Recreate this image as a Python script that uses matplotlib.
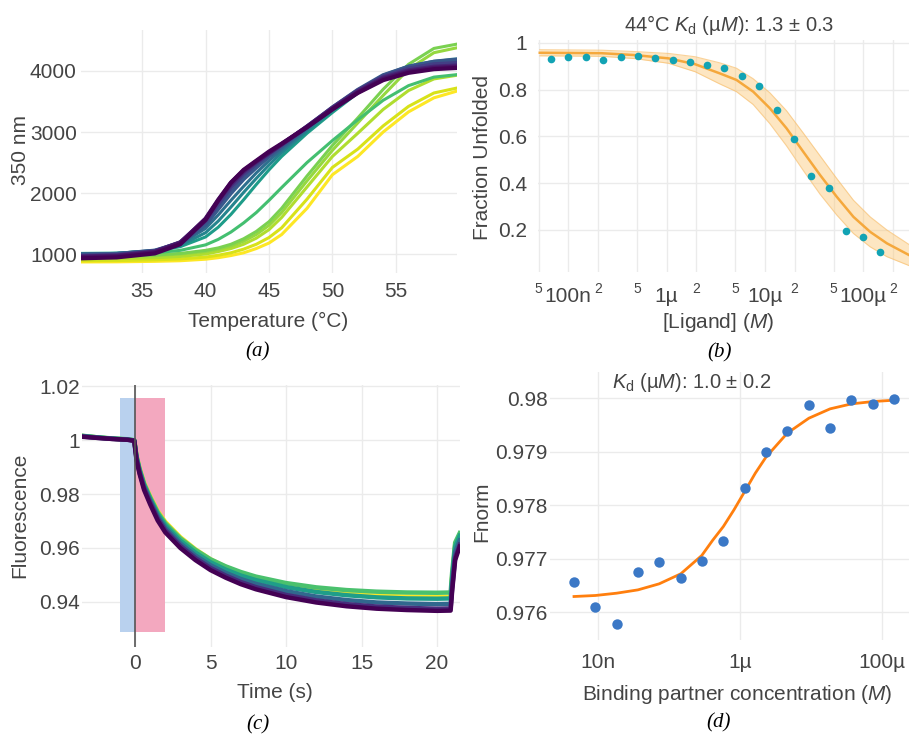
import matplotlib
matplotlib.use("Agg")
import matplotlib.pyplot as plt
import matplotlib.ticker as mticker
import numpy as np

plt.rcParams["font.family"] = ["Liberation Sans", "DejaVu Sans"]
plt.rcParams["mathtext.fontset"] = "custom"
plt.rcParams["mathtext.rm"] = "Liberation Sans"
plt.rcParams["mathtext.it"] = "Liberation Sans:italic"

# ---------------- data ----------------
# (a) melting curves, 350 nm signal vs temperature
temps_a = [30.2, 33, 36, 38, 40, 41, 42, 43, 44, 45, 46, 48, 50, 52, 54, 56, 58, 59.8]
melt_curves = [
    [870, 872, 880, 890, 915, 940, 975, 1020, 1090, 1180, 1320, 1750, 2300, 2600, 3000, 3330, 3560, 3670],
    [890, 893, 905, 920, 950, 980, 1020, 1080, 1160, 1270, 1430, 1900, 2420, 2720, 3100, 3420, 3640, 3720],
    [920, 925, 940, 960, 1000, 1040, 1090, 1160, 1260, 1400, 1600, 2100, 2600, 2980, 3370, 3680, 3870, 3930],
    [955, 960, 975, 1000, 1040, 1080, 1130, 1210, 1320, 1470, 1680, 2200, 2700, 3150, 3600, 4030, 4300, 4380],
    [960, 965, 985, 1010, 1060, 1100, 1160, 1250, 1370, 1530, 1750, 2280, 2780, 3230, 3700, 4110, 4370, 4440],
    [990, 995, 1020, 1060, 1150, 1240, 1360, 1510, 1680, 1880, 2090, 2500, 2860, 3200, 3520, 3760, 3900, 3940],
    [1010, 1015, 1050, 1120, 1280, 1440, 1650, 1890, 2140, 2380, 2600, 2980, 3320, 3640, 3900, 4050, 4140, 4170],
    [1000, 1010, 1055, 1140, 1350, 1540, 1770, 2010, 2240, 2460, 2660, 3020, 3350, 3660, 3910, 4060, 4150, 4180],
    [1000, 1010, 1060, 1160, 1420, 1640, 1880, 2110, 2330, 2530, 2710, 3050, 3380, 3680, 3930, 4080, 4160, 4200],
    [990, 1000, 1055, 1180, 1480, 1740, 2000, 2230, 2420, 2600, 2760, 3080, 3400, 3690, 3930, 4070, 4150, 4180],
    [970, 985, 1045, 1190, 1540, 1820, 2090, 2310, 2480, 2640, 2790, 3090, 3400, 3680, 3910, 4040, 4110, 4130],
    [960, 975, 1040, 1190, 1570, 1870, 2140, 2350, 2510, 2660, 2800, 3090, 3390, 3670, 3890, 4010, 4070, 4090],
    [950, 965, 1030, 1180, 1580, 1890, 2170, 2370, 2520, 2660, 2800, 3080, 3380, 3650, 3870, 3990, 4050, 4070],
    [930, 945, 1010, 1160, 1560, 1880, 2170, 2380, 2530, 2680, 2810, 3080, 3370, 3640, 3850, 3970, 4030, 4050],
]
melt_shade = [1.0, 0.94, 0.88, 0.84, 0.8, 0.7, 0.55, 0.45, 0.36, 0.27, 0.18, 0.1, 0.05, 0.0]

# (b) fraction unfolded vs ligand (log10 M)
lig_log = [-7.177, -7.0, -6.824, -6.645, -6.468, -6.292, -6.116, -5.939, -5.766, -5.590,
           -5.414, -5.237, -5.058, -4.881, -4.705, -4.529, -4.352, -4.176, -4.0, -3.827]
frac_unf = [0.929, 0.938, 0.938, 0.927, 0.940, 0.944, 0.935, 0.925, 0.916, 0.905,
            0.893, 0.858, 0.815, 0.711, 0.590, 0.430, 0.379, 0.194, 0.168, 0.104]
fit_b_log = [-7.29, -6.66, -6.32, -5.98, -5.71, -5.46, -5.29, -5.12, -4.95, -4.78,
             -4.61, -4.44, -4.27, -4.10, -3.93, -3.76, -3.535]
fit_b = [0.957, 0.955, 0.947, 0.933, 0.908, 0.869, 0.841, 0.791, 0.720, 0.634,
         0.534, 0.435, 0.342, 0.256, 0.192, 0.143, 0.093]
fit_b_hi = [0.970, 0.968, 0.962, 0.954, 0.940, 0.914, 0.891, 0.846, 0.786, 0.709,
            0.614, 0.517, 0.420, 0.327, 0.256, 0.200, 0.138]
fit_b_lo = [0.944, 0.942, 0.932, 0.912, 0.876, 0.824, 0.791, 0.736, 0.654, 0.559,
            0.454, 0.353, 0.264, 0.185, 0.128, 0.086, 0.048]

# (c) fluorescence time traces
time_c = [-3.5, -2.5, -1.5, -0.5, -0.05, 0.1, 0.3, 0.6, 1.0, 1.5, 2.0, 3.0, 4.0, 5.0, 6.0, 7.0,
          8.0, 10.0, 12.0, 14.0, 16.0, 18.0, 20.0, 20.9, 21.0, 21.2, 21.5]
trace_yellow = [1.0015, 1.0010, 1.0005, 1.0002, 0.9999, 0.9942, 0.9896, 0.9842, 0.9792, 0.9737, 0.9697,
                0.9640, 0.9595, 0.9558, 0.9530, 0.9507, 0.9488, 0.9460, 0.9442, 0.9430, 0.9423, 0.9420,
                0.9418, 0.9419, 0.9495, 0.9610, 0.9650]
trace_green = [1.0016, 1.0010, 1.0006, 1.0003, 0.9999, 0.9941, 0.9894, 0.9839, 0.9789, 0.9733, 0.9692,
               0.9636, 0.9593, 0.9558, 0.9532, 0.9511, 0.9494, 0.9470, 0.9454, 0.9444, 0.9438, 0.9435,
               0.9434, 0.9435, 0.9510, 0.9620, 0.9655]
trace_teal = [1.0015, 1.0010, 1.0005, 1.0002, 0.9999, 0.9938, 0.9890, 0.9834, 0.9783, 0.9726, 0.9684,
              0.9627, 0.9583, 0.9547, 0.9520, 0.9498, 0.9481, 0.9455, 0.9437, 0.9425, 0.9417, 0.9413,
              0.9412, 0.9413, 0.9490, 0.9605, 0.9645]
trace_blue = [1.0014, 1.0009, 1.0005, 1.0002, 0.9998, 0.9935, 0.9885, 0.9828, 0.9777, 0.9718, 0.9675,
              0.9617, 0.9572, 0.9536, 0.9508, 0.9485, 0.9467, 0.9440, 0.9420, 0.9407, 0.9398, 0.9394,
              0.9392, 0.9393, 0.9470, 0.9585, 0.9628]
trace_indigo = [1.0013, 1.0008, 1.0004, 1.0001, 0.9998, 0.9930, 0.9880, 0.9822, 0.9770, 0.9710, 0.9666,
                0.9608, 0.9563, 0.9526, 0.9498, 0.9474, 0.9455, 0.9426, 0.9406, 0.9392, 0.9383, 0.9378,
                0.9375, 0.9376, 0.9450, 0.9565, 0.9612]
trace_purple = [1.0012, 1.0008, 1.0004, 1.0001, 0.9997, 0.9925, 0.9875, 0.9815, 0.9762, 0.9702, 0.9658,
                0.9600, 0.9555, 0.9518, 0.9490, 0.9466, 0.9447, 0.9418, 0.9398, 0.9384, 0.9375, 0.9370,
                0.9367, 0.9368, 0.9440, 0.9555, 0.9605]

# (d) Fnorm vs binding partner (log10 M)
bind_log = [-8.343, -8.042, -7.742, -7.441, -7.141, -6.836, -6.540, -6.235,
            -5.934, -5.634, -5.333, -5.028, -4.728, -4.427, -4.122, -3.822]
fnorm = [0.97657, 0.97609, 0.97578, 0.97676, 0.97693, 0.97664, 0.97696, 0.97733,
         0.97832, 0.97900, 0.97939, 0.97988, 0.97945, 0.97996, 0.97989, 0.97998]
fit_d_log = [-8.343, -8.042, -7.742, -7.441, -7.141, -6.836, -6.540, -6.388, -6.235, -6.085,
             -5.934, -5.784, -5.634, -5.333, -5.028, -4.728, -4.427, -4.122, -3.822]
fit_d = [0.976293, 0.976312, 0.976355, 0.976417, 0.976530, 0.976717, 0.977059, 0.977340, 0.977601,
         0.977913, 0.978255, 0.978598, 0.978897, 0.979346, 0.979626, 0.979801, 0.979894, 0.979938, 0.979963]

GREY = "#444444"
fig = plt.figure(figsize=(9.09, 7.35), dpi=100)


def px_axes(left, top, right, bottom):
    return fig.add_axes([left / 909, 1 - bottom / 735, (right - left) / 909, (bottom - top) / 735])


def style(ax, xpad, ypad):
    for s in ax.spines.values():
        s.set_visible(False)
    ax.grid(True, which="both", color="#ebebeb", lw=1)
    ax.set_axisbelow(True)
    ax.tick_params(which="both", length=0, labelsize=15, labelcolor=GREY)
    ax.tick_params(axis="x", which="major", pad=xpad)
    ax.tick_params(axis="y", which="major", pad=ypad)


def ftext(x, y, s, **kw):
    kw.setdefault("color", GREY)
    kw.setdefault("fontsize", 15)
    fig.text(x / 909, 1 - y / 735, s, ha="center", va="center", **kw)


# ---------------- (a) ----------------
ax = px_axes(81, 30, 457, 273)
for vals, shade in zip(melt_curves, melt_shade):
    ax.plot(temps_a, vals, color=plt.cm.viridis(shade), lw=2.2 if shade > 0.3 else 3)
ax.set_xlim(30.18, 59.82)
ax.set_ylim(689, 4672)
ax.set_xticks([35, 40, 45, 50, 55])
ax.set_yticks([1000, 2000, 3000, 4000])
style(ax, 6.8, 3)
ftext(268, 321, "Temperature (°C)")
ftext(20, 150, "350 nm", rotation=90)
ftext(258, 352, "(a)", family="Liberation Serif", style="italic", color="black")

# ---------------- (b) ----------------
ax = px_axes(538, 40, 909, 272)
ax.set_xscale("log")
ax.fill_between(10 ** np.array(fit_b_log), fit_b_lo, fit_b_hi, color="#fbc878", alpha=0.45, lw=0)
ax.plot(10 ** np.array(fit_b_log), fit_b_hi, color="#f8c070", lw=0.8, alpha=0.7)
ax.plot(10 ** np.array(fit_b_log), fit_b_lo, color="#f8c070", lw=0.8, alpha=0.7)
ax.plot(10 ** np.array(fit_b_log), fit_b, color="#f5a83c", lw=1.8)
ax.plot(10 ** np.array(lig_log), frac_unf, "o", color="#12a3b4", ms=5.5, mec="none")
ax.set_xlim(10 ** -7.308, 10 ** -3.535)
ax.set_ylim(0.0205, 1.0115)
ax.xaxis.set_major_locator(mticker.FixedLocator([1e-7, 1e-6, 1e-5, 1e-4]))
ax.xaxis.set_major_formatter(mticker.FixedFormatter(["100n", "1µ", "10µ", "100µ"]))
ax.xaxis.set_minor_locator(mticker.FixedLocator([5e-8, 2e-7, 5e-7, 2e-6, 5e-6, 2e-5, 5e-5, 2e-4]))
ax.xaxis.set_minor_formatter(mticker.FixedFormatter(["5", "2", "5", "2", "5", "2", "5", "2"]))
ax.set_yticks([0.2, 0.4, 0.6, 0.8, 1.0])
ax.set_yticklabels(["0.2", "0.4", "0.6", "0.8", "1"])
style(ax, 11, 8)
ax.tick_params(axis="x", which="minor", labelsize=10, pad=7)
ftext(729, 25, r"44°C $K_\mathrm{d}$ (µ$M$): 1.3 ± 0.3", fontsize=14.5)
ftext(718, 322, r"[Ligand] ($M$)")
ftext(483, 157, "Fraction Unfolded", rotation=90)
ftext(720, 353, "(b)", family="Liberation Serif", style="italic", color="black")

# ---------------- (c) ----------------
ax = px_axes(82, 385, 460, 647)
ax.axvspan(-1, 0, ymin=(0.929 - 0.9233) / (1.0204 - 0.9233), ymax=(1.0156 - 0.9233) / (1.0204 - 0.9233),
           color="#b9d1ee", lw=0, zorder=1)
ax.axvspan(0, 2, ymin=(0.929 - 0.9233) / (1.0204 - 0.9233), ymax=(1.0156 - 0.9233) / (1.0204 - 0.9233),
           color="#f3a8bf", lw=0, zorder=1)
traces = [(trace_yellow, "#fde725"), (trace_green, "#4ac16d"), (trace_teal, "#1f9e89"),
          (trace_blue, "#31688e"), (trace_indigo, "#472d7b"), (trace_purple, "#440154")]
for vals, col in traces:
    ax.plot(time_c, vals, color=col, lw=3.2, zorder=3)
ax.axvline(0, color="#555555", lw=1.2, zorder=4)
ax.set_xlim(-3.51, 21.52)
ax.set_ylim(0.9233, 1.0204)
ax.set_xticks([0, 5, 10, 15, 20])
ax.set_yticks([0.94, 0.96, 0.98, 1.0, 1.02])
ax.set_yticklabels(["0.94", "0.96", "0.98", "1", "1.02"])
style(ax, 5, 1.5)
ftext(275, 693, "Time (s)")
ftext(20, 515, "Fluorescence", rotation=90)
ftext(258, 725, "(c)", family="Liberation Serif", style="italic", color="black")

# ---------------- (d) ----------------
ax = px_axes(550, 372, 909, 640)
ax.set_xscale("log")
ax.plot(10 ** np.array(fit_d_log), fit_d, color="#ff7f0e", lw=2)
ax.plot(10 ** np.array(bind_log), fnorm, "o", color="#3b78c6", ms=7.5, mec="none")
ax.set_xlim(10 ** -8.682, 10 ** -3.614)
ax.set_ylim(0.97548, 0.98049)
ax.xaxis.set_major_locator(mticker.FixedLocator([1e-8, 1e-6, 1e-4]))
ax.xaxis.set_major_formatter(mticker.FixedFormatter(["10n", "1µ", "100µ"]))
ax.xaxis.set_minor_locator(mticker.NullLocator())
ax.set_yticks([0.976, 0.977, 0.978, 0.979, 0.98])
ax.set_yticklabels(["0.976", "0.977", "0.978", "0.979", "0.98"])
style(ax, 9, 1.5)
ftext(692, 383, r"$K_\mathrm{d}$ (µ$M$): 1.0 ± 0.2", fontsize=14.5)
ftext(737, 695, r"Binding partner concentration ($M$)")
ftext(482, 512, "Fnorm", rotation=90)
ftext(719, 723, "(d)", family="Liberation Serif", style="italic", color="black")

fig.savefig("out.png", dpi=100)
